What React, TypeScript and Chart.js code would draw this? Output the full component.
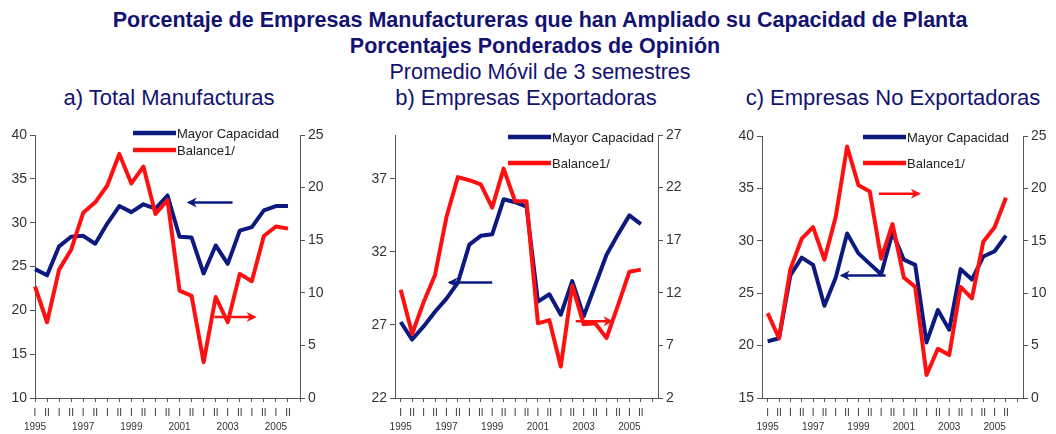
import React, { useEffect, useRef } from 'react';
import { Chart, registerables } from 'chart.js';

Chart.register(...registerables);

// ---------- data ----------
const semesters = ['I', 'II', 'I', 'II', 'I', 'II', 'I', 'II', 'I', 'II', 'I', 'II', 'I', 'II', 'I', 'II', 'I', 'II', 'I', 'II', 'I', 'II', ''];
const years = ['1995', '', '', '', '1997', '', '', '', '1999', '', '', '', '2001', '', '', '', '2003', '', '', '', '2005', '', ''];

const totalMayor = [24.7, 24.0, 27.3, 28.4, 28.5, 27.6, 29.9, 31.9, 31.2, 32.1, 31.6, 33.1, 28.4, 28.3, 24.2, 27.4, 25.3, 29.1, 29.5, 31.4, 31.9, 31.9];
const totalBalance = [10.6, 7.2, 12.2, 14.1, 17.6, 18.6, 20.2, 23.2, 20.4, 22.0, 17.5, 18.8, 10.2, 9.7, 3.4, 9.6, 7.2, 11.8, 11.1, 15.4, 16.3, 16.1];

const exportMayor = [27.2, 26.0, 26.9, 27.9, 28.8, 29.9, 32.5, 33.1, 33.2, 35.6, 35.4, 35.1, 28.6, 29.1, 27.7, 30.0, 27.6, 29.7, 31.8, 33.2, 34.5, 33.9];
const exportBalance = [12.3, 8.1, 11.1, 13.7, 19.2, 23.0, 22.7, 22.3, 20.1, 23.8, 20.7, 20.7, 9.1, 9.4, 5.0, 12.7, 9.0, 9.1, 7.7, 10.8, 14.0, 14.2];

const nonExportMayor = [20.4, 20.7, 26.7, 28.4, 27.7, 23.8, 26.5, 30.7, 28.8, 27.8, 26.8, 30.8, 28.2, 27.7, 20.3, 23.4, 21.5, 27.3, 26.3, 28.5, 29.0, 30.5];
const nonExportBalance = [8.1, 5.7, 12.3, 15.2, 16.3, 13.2, 17.3, 24.0, 20.3, 19.7, 13.3, 16.6, 11.5, 10.6, 2.2, 4.7, 4.1, 10.6, 9.5, 14.9, 16.3, 19.1];

const seriesNames = ['Mayor Capacidad', 'Balance1/'];

const titleLines = [
  'Porcentaje de Empresas Manufactureras que han Ampliado su Capacidad de Planta',
  'Porcentajes Ponderados de Opinión',
  'Promedio Móvil de 3 semestres',
];
const panelTitles = ['a) Total Manufacturas', 'b) Empresas Exportadoras', 'c) Empresas No Exportadoras'];

// ---------- style ----------
const NAVY = '#0c1a80';
const RED = '#ff1010';
const TITLE = '#121272';
const AXIS = '#555';
const TICK = '#333';
const FONT = "'Liberation Sans', Arial, sans-serif";

const labels = semesters.map((s, i) => [s, years[i]]);

type Arrow = { axis: string; value: number; from: number; to: number; color: string };

type PanelCfg = {
  mayor: number[];
  balance: number[];
  left: { min: number; max: number; ticks: number[] };
  right: { min: number; max: number; ticks: number[] };
  offset: boolean;
  leftW: number;
  rightW: number;
  padTop: number;
  legendDx: number;
  legendDy: number;
  legendGap: number;
  arrows: Arrow[];
};

const range = (a: number, b: number, s: number) => {
  const r: number[] = [];
  for (let v = a; v <= b + 1e-9; v += s) r.push(v);
  return r;
};

const panelA: PanelCfg = {
  mayor: totalMayor,
  balance: totalBalance,
  left: { min: 10, max: 40, ticks: range(10, 40, 5) },
  right: { min: 0, max: 25, ticks: range(0, 25, 5) },
  offset: false,
  leftW: 35,
  rightW: 40,
  padTop: 15,
  legendDx: 98,
  legendDy: -2,
  legendGap: 17,
  arrows: [
    { axis: 'yL', value: 32.3, from: 16.4, to: 12.6, color: NAVY },
    { axis: 'yR', value: 7.7, from: 14.9, to: 18.4, color: RED },
  ],
};

const panelB: PanelCfg = {
  mayor: exportMayor,
  balance: exportBalance,
  left: { min: 22, max: 40, ticks: [22, 27, 32, 37] },
  right: { min: 2, max: 27, ticks: range(2, 27, 5) },
  offset: true,
  leftW: 40,
  rightW: 42,
  padTop: 15,
  legendDx: 113,
  legendDy: 2,
  legendGap: 26,
  arrows: [
    { axis: 'yL', value: 29.9, from: 8.0, to: 4.1, color: NAVY },
    { axis: 'yR', value: 9.3, from: 15.3, to: 18.6, color: RED },
  ],
};

const panelC: PanelCfg = {
  mayor: nonExportMayor,
  balance: nonExportBalance,
  left: { min: 15, max: 40, ticks: range(15, 40, 5) },
  right: { min: 0, max: 25, ticks: range(0, 25, 5) },
  offset: true,
  leftW: 44,
  rightW: 33,
  padTop: 16,
  legendDx: 101,
  legendDy: 1,
  legendGap: 26,
  arrows: [
    { axis: 'yR', value: 19.5, from: 9.8, to: 13.5, color: RED },
    { axis: 'yL', value: 26.7, from: 10.4, to: 6.35, color: NAVY },
  ],
};

const decorPlugin = {
  id: 'decor',
  afterDatasetsDraw(chart: any, _args: any, opts: any) {
    const ctx = chart.ctx;
    const ca = chart.chartArea;
    const x = chart.scales.x;
    // arrows
    (opts.arrows || []).forEach((a: Arrow) => {
      const y = chart.scales[a.axis].getPixelForValue(a.value);
      const x1 = x.getPixelForValue(a.from);
      const x2 = x.getPixelForValue(a.to);
      const dir = x2 > x1 ? 1 : -1;
      ctx.save();
      ctx.strokeStyle = a.color;
      ctx.fillStyle = a.color;
      ctx.lineWidth = 2.5;
      ctx.beginPath();
      ctx.moveTo(x1, y);
      ctx.lineTo(x2 - dir * 2, y);
      ctx.stroke();
      ctx.beginPath();
      ctx.moveTo(x2, y);
      ctx.lineTo(x2 - dir * 10, y - 5);
      ctx.lineTo(x2 - dir * 7, y);
      ctx.lineTo(x2 - dir * 10, y + 5);
      ctx.closePath();
      ctx.fill();
      ctx.restore();
    });
    // legend
    const lx = ca.left + opts.legendDx;
    const ly = ca.top + opts.legendDy;
    const cols = [NAVY, RED];
    ctx.save();
    ctx.font = `13px ${FONT}`;
    ctx.textBaseline = 'middle';
    ctx.textAlign = 'left';
    seriesNames.forEach((name, i) => {
      const yy = ly + i * opts.legendGap;
      ctx.strokeStyle = cols[i];
      ctx.lineWidth = 4.5;
      ctx.beginPath();
      ctx.moveTo(lx, yy);
      ctx.lineTo(lx + 43, yy);
      ctx.stroke();
      ctx.fillStyle = '#222';
      ctx.fillText(name, lx + 44, yy + 1);
    });
    ctx.restore();
  },
};

function yAxis(position: 'left' | 'right', cfg: { min: number; max: number; ticks: number[] }, w: number) {
  return {
    type: 'linear',
    position,
    min: cfg.min,
    max: cfg.max,
    afterBuildTicks: (s: any) => {
      s.ticks = cfg.ticks.map((v) => ({ value: v }));
    },
    afterFit: (s: any) => {
      s.width = w;
    },
    grid: { drawOnChartArea: false, drawTicks: true, tickLength: 5, color: AXIS, lineWidth: 1 },
    border: { display: true, color: AXIS, width: 1 },
    ticks: { color: TICK, font: { family: FONT, size: 14 }, padding: 3 },
  };
}

function Panel({ cfg, left, width }: { cfg: PanelCfg; left: number; width: number }) {
  const ref = useRef<HTMLCanvasElement | null>(null);
  useEffect(() => {
    if (!ref.current) return;
    const chart = new Chart(ref.current, {
      type: 'line',
      data: {
        labels,
        datasets: [
          {
            label: seriesNames[1],
            data: cfg.balance,
            yAxisID: 'yR',
            borderColor: RED,
            borderWidth: 4,
            pointRadius: 0,
            tension: 0,
            borderJoinStyle: 'round',
            fill: false,
          },
          {
            label: seriesNames[0],
            data: cfg.mayor,
            yAxisID: 'yL',
            borderColor: NAVY,
            borderWidth: 4,
            pointRadius: 0,
            tension: 0,
            borderJoinStyle: 'round',
            fill: false,
          },
        ],
      },
      options: {
        responsive: false,
        animation: false,
        layout: { padding: { top: cfg.padTop, left: 0, right: 0, bottom: 0 } },
        plugins: {
          legend: { display: false },
          tooltip: { enabled: false },
          title: { display: false },
          decor: { arrows: cfg.arrows, legendDx: cfg.legendDx, legendDy: cfg.legendDy, legendGap: cfg.legendGap },
        } as any,
        scales: {
          x: {
            type: 'category',
            offset: cfg.offset,
            afterFit: (s: any) => {
              s.height = 36;
            },
            grid: { drawOnChartArea: false, drawTicks: true, tickLength: 4, color: AXIS, offset: false },
            border: { display: true, color: AXIS, width: 1 },
            ticks: {
              autoSkip: false,
              maxRotation: 0,
              minRotation: 0,
              padding: 4,
              color: TICK,
              font: { family: FONT, size: 10, lineHeight: 1.4 },
            },
          },
          yL: yAxis('left', cfg.left, cfg.leftW),
          yR: yAxis('right', cfg.right, cfg.rightW),
        } as any,
      },
      plugins: [decorPlugin],
    } as any);
    return () => chart.destroy();
  }, [cfg]);
  return (
    <canvas
      ref={ref}
      width={width}
      height={314}
      style={{ position: 'absolute', left, top: 120, width, height: 314 }}
    />
  );
}

const textStyle = (center: number, size: number, bold: boolean, cx: number): React.CSSProperties => ({
  position: 'absolute',
  top: center - 13,
  left: cx - 528,
  width: 1056,
  textAlign: 'center',
  fontFamily: FONT,
  fontSize: size,
  fontWeight: bold ? 700 : 400,
  lineHeight: '26px',
  color: TITLE,
  whiteSpace: 'nowrap',
});

export default function App() {
  return (
    <div style={{ position: 'absolute', left: 0, top: 0, width: 1056, height: 434, background: '#fff', overflow: 'hidden' }}>
      <div style={textStyle(20, 21.5, true, 540)}>{titleLines[0]}</div>
      <div style={textStyle(46, 21.5, true, 535)}>{titleLines[1]}</div>
      <div style={textStyle(72, 21.5, false, 540)}>{titleLines[2]}</div>
      <div style={textStyle(98, 22, false, 169)}>{panelTitles[0]}</div>
      <div style={textStyle(98, 22, false, 526)}>{panelTitles[1]}</div>
      <div style={textStyle(98, 22, false, 893)}>{panelTitles[2]}</div>
      <Panel cfg={panelA} left={0} width={340} />
      <Panel cfg={panelB} left={355} width={345} />
      <Panel cfg={panelC} left={718} width={338} />
    </div>
  );
}
